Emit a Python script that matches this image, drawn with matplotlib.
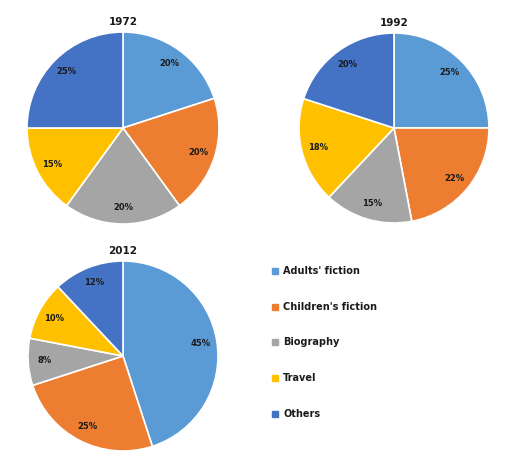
import matplotlib.pyplot as plt
from matplotlib.patches import Rectangle

categories = ["Adults' fiction", "Children's fiction", 'Biography', 'Travel', 'Others']
colors = ['#5B9BD5', '#ED7D31', '#A5A5A5', '#FFC000', '#4472C4']

years = ['1972', '1992', '2012']
shares_1972 = [20, 20, 20, 15, 25]
shares_1992 = [25, 22, 15, 18, 20]
shares_2012 = [45, 25, 8, 10, 12]

W, H = 512, 462
fig = plt.figure(figsize=(W / 100, H / 100), dpi=100)

# centre x, centre y (from top), radius in pixels
pies = [
    (shares_1972, years[0], 123, 128, 96),
    (shares_1992, years[1], 394, 128, 95),
    (shares_2012, years[2], 123, 356, 95),
]

for shares, year, cx, cy, r in pies:
    ax = fig.add_axes([(cx - r) / W, (H - cy - r) / H, 2 * r / W, 2 * r / H])
    ax.pie(shares, colors=colors, startangle=90, counterclock=False,
           autopct='%d%%', pctdistance=0.83,
           wedgeprops=dict(edgecolor='white', linewidth=1.2),
           textprops=dict(fontsize=6, fontweight='bold', color='#1a1a1a'))
    ax.set_xlim(-1, 1)
    ax.set_ylim(-1, 1)
    ax.set_aspect('equal')
    ax.axis('off')
    fig.text(cx / W, (H - cy + r + 10) / H, year, ha='center', va='center',
             fontsize=7.5, fontweight='bold', color='#1a1a1a')

# legend
ys = [271, 307, 342, 378, 414]
for name, col, y in zip(categories, colors, ys):
    fig.patches.append(Rectangle((272 / W, (H - y - 3) / H), 6 / W, 6 / H,
                                 transform=fig.transFigure, color=col))
    fig.text(283 / W, (H - y) / H, name, ha='left', va='center',
             fontsize=7, fontweight='bold', color='#1a1a1a')

fig.savefig('out.png', dpi=100, facecolor='white')
